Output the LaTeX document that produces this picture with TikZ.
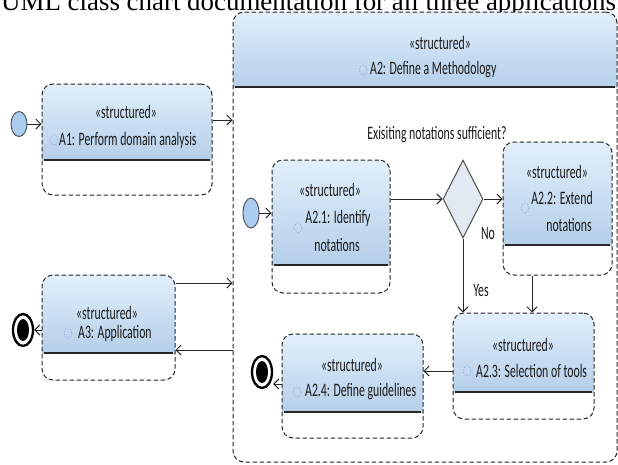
\documentclass[tikz,border=0pt]{standalone}
\usepackage{fontspec}
\setmainfont{Liberation Serif}
\newfontfamily\umlfont[FakeStretch=0.62]{Carlito}
\usetikzlibrary{arrows.meta,shapes.geometric}
\definecolor{hdtop}{HTML}{E2EFFB}
\definecolor{hdbot}{HTML}{B5CFE9}
\definecolor{startfill}{HTML}{A9CCF0}
\definecolor{iconc}{HTML}{86B0DA}
\definecolor{dfill}{HTML}{E1E9F2}
\tikzset{
  boxborder/.style={draw=black!85, dash pattern=on 4.5pt off 2.5pt, line width=1pt, rounded corners=11pt, inner sep=0pt, rectangle},
  hline/.style={line width=1.3pt, draw=black!85},
  lbl/.style={font=\umlfont\fontsize{19}{22}\selectfont, inner sep=0pt, text=black!90},
  arr/.style={draw=black!85, line width=1pt, -{Straight Barb[length=5pt,width=10pt]}},
  iconst/.style={draw=iconc, dotted, line width=0.9pt},
  startnode/.style={ellipse, draw=black!70, fill=startfill, line width=0.9pt, minimum width=16pt, minimum height=25pt, inner sep=0pt},
  endnode/.style={ellipse, draw=black, line width=2.3pt, minimum width=20pt, minimum height=32pt, inner sep=0pt},
}
\newcommand\actbox[6]{%
  \begin{scope}
    \clip[rounded corners=11pt] (#2,#3) rectangle (#4,#5);
    \shade[top color=hdtop,bottom color=hdbot] (#2,#3) rectangle (#4,#6);
  \end{scope}
  \draw[hline] (#2+2,#6) -- (#4-2,#6);
  \node[boxborder, minimum width={#4-#2}, minimum height={#5-#3}] (#1) at ({(#2+#4)/2},{(#3+#5)/2}) {};
}
\begin{document}
\begin{tikzpicture}[x=1pt,y=-1pt]
\useasboundingbox (0,0) rectangle (618,464);
\clip (0,0) rectangle (618,464);
\fill[white] (0,0) rectangle (618,464);

% title
\node[font=\fontsize{26.9}{30}\selectfont, anchor=base west, inner sep=0pt] (title) at (1,10) {UML class chart documentation for all three applications.};

% boxes
\actbox{a1}{42}{84}{212}{195}{160}
\actbox{a3}{42}{275}{175}{380}{353}
\actbox{a2}{233}{12}{617}{462}{87}
\actbox{a21}{272}{160}{390}{293}{265}
\actbox{a22}{503}{142}{612}{275}{245}
\actbox{a23}{453}{313}{594}{419}{392}
\actbox{a24}{282}{334}{423}{438}{412}

% texts
\node[lbl] (a1s) at (126,112) {«structured»};
\draw[iconst] (54,140) ellipse (4 and 5);
\node[lbl, anchor=west] (a1t) at (59,140) {A1: Perform domain analysis};

\node[lbl] (a3s) at (107,313) {«structured»};
\draw[iconst] (68,333) ellipse (4 and 5);
\node[lbl, anchor=west] (a3t) at (78,333) {A3: Application};

\node[lbl] (a2s) at (440,43) {«structured»};
\draw[iconst] (363,70) ellipse (4 and 5);
\node[lbl, anchor=west] (a2t) at (370,70) {A2: Define a Methodology};

\node[lbl] (a21s) at (330,190) {«structured»};
\draw[iconst] (298,228) ellipse (4 and 5);
\node[lbl] (a21t) at (338,218) {A2.1: Identify};
\node[lbl] (a21u) at (337,245) {notations};

\node[lbl] (a22s) at (557,172) {«structured»};
\draw[iconst] (525,208) ellipse (4 and 5);
\node[lbl] (a22t) at (562,198) {A2.2: Extend};
\node[lbl] (a22u) at (569,225) {notations};

\node[lbl] (a23s) at (523,345) {«structured»};
\draw[iconst] (467,371) ellipse (4 and 5);
\node[lbl, anchor=west] (a23t) at (476,371) {A2.3: Selection of tools};

\node[lbl] (a24s) at (352,365) {«structured»};
\draw[iconst] (297,392) ellipse (4 and 5);
\node[lbl, anchor=west] (a24t) at (305,392) {A2.4: Define guidelines};

\node[lbl] (q) at (437,135) {Exisiting notations sufficient?};
\node[lbl] (no) at (488,233) {No};
\node[lbl] (yes) at (481,290) {Yes};

% control nodes
\node[startnode] (i1) at (19,124) {};
\node[startnode, minimum height=30pt] (i2) at (251,213) {};
\node[endnode] (f1) at (23,330) {};
\fill (f1) ellipse (6 and 11);
\node[endnode] (f2) at (262,372) {};
\fill (f2) ellipse (6 and 11);
\node[diamond, draw=black!70, fill=dfill, line width=1pt, minimum width=40pt, minimum height=78pt, inner sep=0pt] (d) at (463,199) {};

% connectors
\draw[arr] (i1.east) -- (i1.east -| a1.west);
\draw[arr] (a1.east |- 0,120) -- (a2.west |- 0,120);
\draw[arr] (a3.east |- 0,283) -- (a2.west |- 0,283);
\draw[arr] (a2.west |- 0,350) -- (a3.east |- 0,350);
\draw[arr] (a3.west |- f1.east) -- (f1.east);
\draw[arr] (i2.east) -- (i2.east -| a21.west);
\draw[arr] (d.west -| a21.east) -- (d.west);
\draw[arr] (d.east) -- (d.east -| a22.west);
\draw[arr] (d.south) -- (d.south |- a23.north);
\draw[arr] (a22.south -| 532,0) -- (a23.north -| 532,0);
\draw[arr] (a23.west |- 0,371) -- (a24.east |- 0,371);
\draw[arr] (a24.west |- 0,384) -- (f2.east |- 0,384);
\end{tikzpicture}
\end{document}
